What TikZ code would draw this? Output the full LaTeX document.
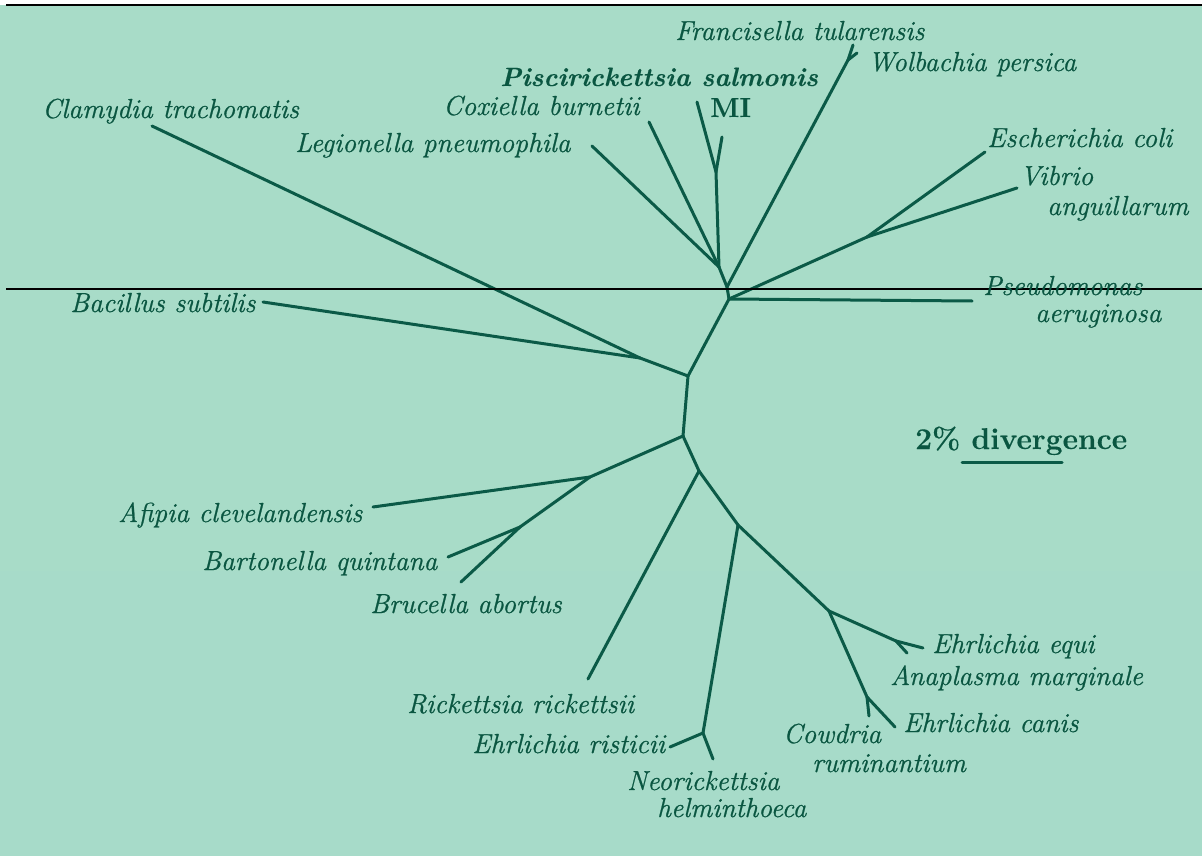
\documentclass[tikz,border=0pt]{standalone}
\usepackage{fontspec}
\newfontfamily\labfont{Latin Modern Roman}[FakeBold=0.8]
\newfontfamily\labbfont{Latin Modern Roman}[FakeBold=0.3]
\definecolor{bgmint}{HTML}{A8DCC8}
\definecolor{bgmint2}{HTML}{A7DBC9}
\definecolor{branch}{HTML}{0B5A47}
\definecolor{labelgreen}{HTML}{0A5641}
\tikzset{
  br/.style={draw=branch, line width=3pt, line cap=round, line join=round},
  lab/.style={anchor=base west, inner sep=0pt, text=labelgreen, font=\fontsize{27.5}{31}\labfont\itshape},
  blab/.style={lab, font=\fontsize{26.5}{31}\labbfont\bfseries\itshape},
  ulab/.style={lab, font=\fontsize{27.5}{31}\labbfont\bfseries},
  dlab/.style={lab, font=\fontsize{30}{34}\labbfont\bfseries},
  rule/.style={draw=black, line width=1.3pt}
}
\begin{document}
\begin{tikzpicture}[x=1pt,y=-1pt]
\useasboundingbox (0,0) rectangle (1202,856);
\fill[white] (0,0) rectangle (1202,856);
\fill[bgmint] (0,5) rectangle (1202,571);
\fill[bgmint2] (0,571) rectangle (1202,856);
% frame lines
\coordinate (t1) at (6,5); \coordinate (t2) at (1202,5);
\coordinate (m1) at (6,289); \coordinate (m2) at (1202,289);
% internal nodes
\coordinate (A) at (729,299);
\coordinate (B) at (727,287);
\coordinate (C) at (719,267);
\coordinate (D) at (716,172);
\coordinate (W) at (848,60);
\coordinate (Q) at (867,237);
\coordinate (E) at (688,376);
\coordinate (F) at (640,358);
\coordinate (G) at (683,436);
\coordinate (H) at (590,477);
\coordinate (I) at (520,527);
\coordinate (J) at (699,471);
\coordinate (K) at (738,525);
\coordinate (L) at (703,733);
\coordinate (M) at (829,611);
\coordinate (N) at (896,641);
\coordinate (O) at (867,697);
% tips
\coordinate (tFran) at (853,45);
\coordinate (tWolb) at (857,53);
\coordinate (tPisc) at (697,102);
\coordinate (tMI) at (722,137);
\coordinate (tCox) at (649,122);
\coordinate (tLeg) at (592,146);
\coordinate (tEco) at (985,152);
\coordinate (tVib) at (1017,188);
\coordinate (tPse) at (972,301);
\coordinate (tCla) at (152,126);
\coordinate (tBac) at (263,302);
\coordinate (tAfi) at (373,507);
\coordinate (tBar) at (448,557);
\coordinate (tBru) at (461,582);
\coordinate (tRic) at (588,679);
\coordinate (tRis) at (670,747);
\coordinate (tNeo) at (713,759);
\coordinate (tEqu) at (923,648);
\coordinate (tAna) at (907,653);
\coordinate (tCow) at (869,716);
\coordinate (tCan) at (895,727);
\coordinate (s1) at (962,462); \coordinate (s2) at (1062,462);

\draw[rule] (t1) -- (t2);

% branches
\draw[br] (E) -- (A);
\draw[br] (A) -- (B);
\draw[br] (A) -- (tPse);
\draw[br] (A) -- (Q);
\draw[br] (Q) -- (tEco);
\draw[br] (Q) -- (tVib);
\draw[br] (B) -- (W);
\draw[br] (W) -- (tFran);
\draw[br] (W) -- (tWolb);
\draw[br] (B) -- (C);
\draw[br] (C) -- (tLeg);
\draw[br] (C) -- (tCox);
\draw[br] (C) -- (D);
\draw[br] (D) -- (tPisc);
\draw[br] (D) -- (tMI);
\draw[br] (E) -- (F);
\draw[br] (F) -- (tCla);
\draw[br] (F) -- (tBac);
\draw[br] (E) -- (G);
\draw[br] (G) -- (H);
\draw[br] (H) -- (tAfi);
\draw[br] (H) -- (I);
\draw[br] (I) -- (tBar);
\draw[br] (I) -- (tBru);
\draw[br] (G) -- (J);
\draw[br] (J) -- (tRic);
\draw[br] (J) -- (K);
\draw[br] (K) -- (L);
\draw[br] (L) -- (tRis);
\draw[br] (L) -- (tNeo);
\draw[br] (K) -- (M);
\draw[br] (M) -- (N);
\draw[br] (N) -- (tEqu);
\draw[br] (N) -- (tAna);
\draw[br] (M) -- (O);
\draw[br] (O) -- (tCow);
\draw[br] (O) -- (tCan);
\draw[br] (s1) -- (s2);

\draw[rule] (m1) -- (m2);

% labels
\node[lab] (lFran) at (675,40) {Francisella tularensis};
\node[lab] (lWolb) at (868,71) {Wolbachia persica};
\node[blab] (lPisc) at (500,86) {Piscirickettsia salmonis};
\node[ulab] (lMI) at (710,117) {MI};
\node[lab] (lCox) at (443,115) {Coxiella burnetii};
\node[lab] (lLeg) at (295,152) {Legionella pneumophila};
\node[lab] (lCla) at (42,118) {Clamydia trachomatis};
\node[lab] (lEco) at (987,147) {Escherichia coli};
\node[lab] (lVib1) at (1020,185) {Vibrio};
\node[lab] (lVib2) at (1047,215) {anguillarum};
\node[lab] (lPse1) at (983,295) {Pseudomonas};
\node[lab] (lPse2) at (1035,322) {aeruginosa};
\node[lab] (lBac) at (70,312) {Bacillus subtilis};
\node[dlab] (lDiv) at (915,449) {2\% divergence};
\node[lab] (lAfi) at (118,522) {Afipia clevelandensis};
\node[lab] (lBar) at (202,570) {Bartonella quintana};
\node[lab] (lBru) at (370,613) {Brucella abortus};
\node[lab] (lRic) at (407,713) {Rickettsia rickettsii};
\node[lab] (lRis) at (472,753) {Ehrlichia risticii};
\node[lab] (lNeo1) at (627,790) {Neorickettsia};
\node[lab] (lNeo2) at (657,817) {helminthoeca};
\node[lab] (lCow1) at (783,743) {Cowdria};
\node[lab] (lCow2) at (812,772) {ruminantium};
\node[lab] (lCan) at (903,732) {Ehrlichia canis};
\node[lab] (lEqu) at (932,653) {Ehrlichia equi};
\node[lab] (lAna) at (890,685) {Anaplasma marginale};
\end{tikzpicture}
\end{document}
